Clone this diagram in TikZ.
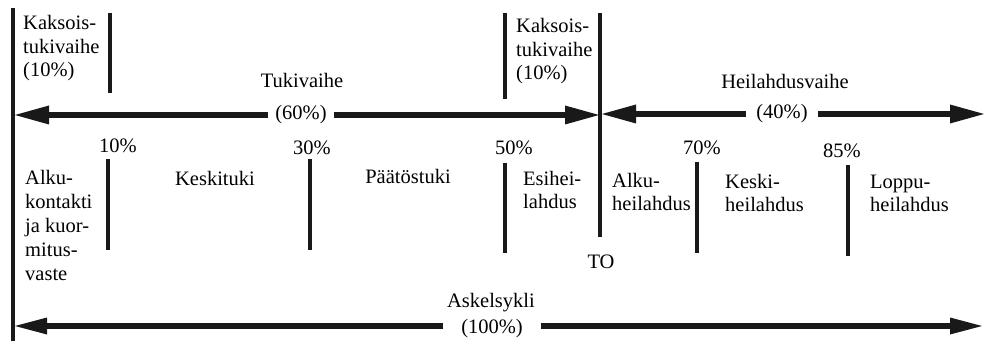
\documentclass[tikz,border=0pt]{standalone}
\usepackage{fontspec}
\setmainfont{Liberation Serif}
\usetikzlibrary{arrows.meta}
\newcommand\diagfs{\fontsize{20.5}{23.8}\selectfont}
\tikzset{
  vmark/.style={line width=4.5pt, black!90},
  phase/.style={line width=6.5pt, black!90},
  tipbig/.tip={Triangle[length=34pt,width=19pt,line width=0pt]},
  tipsmall/.tip={Triangle[length=32pt,width=17pt,line width=0pt]},
  lbl/.style={font=\diagfs, inner sep=0pt, align=left, anchor=base west},
  ctr/.style={font=\diagfs, inner sep=0pt, anchor=base},
  gaplbl/.style={font=\diagfs, inner ysep=0pt, anchor=center},
}
\begin{document}
\begin{tikzpicture}[x=1pt,y=-1pt]
\useasboundingbox (0,0) rectangle (984,344);
% coordinates for arrow ends
\coordinate (tl) at (15,115);
\coordinate (tr) at (599,115);
\coordinate (hl) at (602,114);
\coordinate (hr) at (984,114);
\coordinate (bl) at (15,326);
\coordinate (br) at (982,326);
% main vertical lines
\draw[line width=4pt, black!90] (13,8) -- (13,341);
\draw[line width=4pt, black!90] (600,13) -- (600,237);
% short marks
\draw[vmark] (110,13) -- (110,93);
\draw[vmark] (505,13) -- (505,99);
\draw[vmark] (108,159) -- (108,250);
\draw[vmark] (310,159) -- (310,250);
\draw[vmark] (505,163) -- (505,253);
\draw[vmark] (697,162) -- (697,253);
\draw[vmark] (848,165) -- (848,256);
% top texts (base anchor = last line's baseline)
\node[lbl] (kt1) at (23,77) {Kaksois-\\tukivaihe\\(10\%)};
\node[lbl] (kt2) at (516,80) {Kaksois-\\tukivaihe\\(10\%)};
\node[ctr] (tuki) at (302,88) {Tukivaihe};
\node[gaplbl, inner xsep=7pt] (p60) at (301,115) {(60\%)};
\node[ctr] (heil) at (785,89) {Heilahdusvaihe};
\node[gaplbl, inner xsep=10pt] (p40) at (782,114) {(40\%)};
% phase arrows
\draw[phase, -{tipbig}] (p60.west |- tl) -- (tl);
\draw[phase, -{tipbig}] (p60.east |- tr) -- (tr);
\draw[phase, -{tipbig}] (p40.west |- hl) -- (hl);
\draw[phase, -{tipbig}] (p40.east |- hr) -- (hr);
% percentages
\node[ctr] (pc10) at (118,153) {10\%};
\node[ctr] (pc30) at (312,155) {30\%};
\node[ctr] (pc50) at (514,155) {50\%};
\node[ctr] (pc70) at (702,155) {70\%};
\node[ctr] (pc85) at (842,158) {85\%};
% sub-phase texts
\node[lbl] (alku) at (25,280) {Alku-\\kontakti\\ja kuor-\\mitus-\\vaste};
\node[ctr] (keski) at (215,186) {Keskituki};
\node[ctr] (paat) at (408,184) {Päätöstuki};
\node[lbl] (esi) at (523,209) {Esihei-\\lahdus};
\node[lbl] (alkuh) at (612,211) {Alku-\\heilahdus};
\node[lbl] (keskih) at (725,212) {Keski-\\heilahdus};
\node[lbl] (loppu) at (870,212) {Loppu-\\heilahdus};
\node[ctr] (to) at (601,269) {TO};
% step cycle
\node[ctr] (askel) at (491,307) {Askelsykli};
\node[gaplbl, inner xsep=18pt] (p100) at (492,329) {(100\%)};
\draw[phase, -{tipsmall}] (p100.west |- bl) -- (bl);
\draw[phase, -{tipsmall}] (p100.east |- br) -- (br);
\end{tikzpicture}
\end{document}
